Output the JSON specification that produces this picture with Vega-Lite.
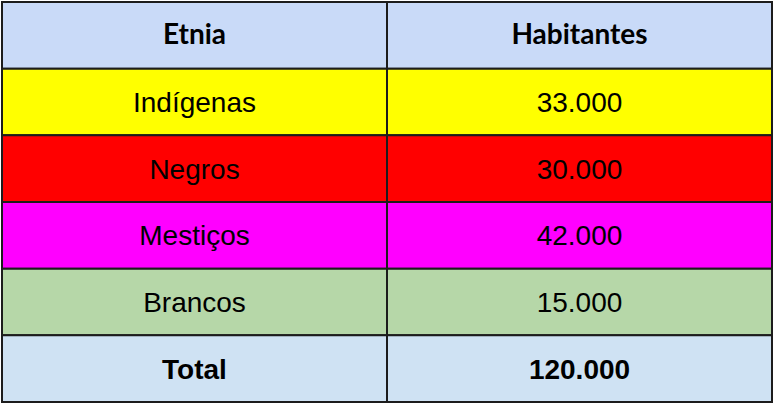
{
  "$schema": "https://vega.github.io/schema/vega-lite/v6.json",
  "width": 774,
  "height": 405,
  "autosize": {"type": "fit", "contains": "padding"},
  "padding": {"left": 1, "top": 1, "right": 1, "bottom": 2},
  "background": "white",
  "config": {"view": {"stroke": null}},
  "data": {
    "values": [
      {"linha": "Cabeçalho", "coluna": "Etnia", "texto": "Etnia"},
      {"linha": "Cabeçalho", "coluna": "Habitantes", "texto": "Habitantes"},
      {"linha": "Indígenas", "coluna": "Etnia", "texto": "Indígenas"},
      {"linha": "Indígenas", "coluna": "Habitantes", "texto": "33.000"},
      {"linha": "Negros", "coluna": "Etnia", "texto": "Negros"},
      {"linha": "Negros", "coluna": "Habitantes", "texto": "30.000"},
      {"linha": "Mestiços", "coluna": "Etnia", "texto": "Mestiços"},
      {"linha": "Mestiços", "coluna": "Habitantes", "texto": "42.000"},
      {"linha": "Brancos", "coluna": "Etnia", "texto": "Brancos"},
      {"linha": "Brancos", "coluna": "Habitantes", "texto": "15.000"},
      {"linha": "Total", "coluna": "Etnia", "texto": "Total"},
      {"linha": "Total", "coluna": "Habitantes", "texto": "120.000"}
    ]
  },
  "encoding": {
    "x": {"field": "coluna", "type": "nominal", "axis": null, "sort": ["Etnia", "Habitantes"], "scale": {"paddingInner": 0, "paddingOuter": 0}},
    "y": {"field": "linha", "type": "nominal", "axis": null, "sort": ["Cabeçalho", "Indígenas", "Negros", "Mestiços", "Brancos", "Total"], "scale": {"paddingInner": 0, "paddingOuter": 0}}
  },
  "layer": [
    {
      "mark": {"type": "rect", "stroke": "#1c1c1c", "strokeWidth": 2},
      "encoding": {
        "fill": {
          "field": "linha", "type": "nominal", "legend": null,
          "scale": {
            "domain": ["Cabeçalho", "Indígenas", "Negros", "Mestiços", "Brancos", "Total"],
            "range": ["#c9daf8", "#ffff00", "#ff0000", "#ff00ff", "#b6d7a8", "#cfe2f3"]
          }
        }
      }
    },
    {
      "transform": [{"filter": "datum.linha === 'Cabeçalho'"}],
      "mark": {"type": "text", "font": "Lato", "fontWeight": "bold", "fontSize": 28, "color": "#000000", "baseline": "middle", "dy": 1},
      "encoding": {"text": {"field": "texto"}}
    },
    {
      "transform": [{"filter": "datum.linha !== 'Cabeçalho' && datum.linha !== 'Total'"}],
      "mark": {"type": "text", "font": "Liberation Sans", "fontSize": 28, "color": "#000000", "baseline": "middle", "dy": 2},
      "encoding": {"text": {"field": "texto"}}
    },
    {
      "transform": [{"filter": "datum.linha === 'Total'"}],
      "mark": {"type": "text", "font": "Liberation Sans", "fontWeight": "bold", "fontSize": 28, "color": "#000000", "baseline": "middle", "dy": 2},
      "encoding": {"text": {"field": "texto"}}
    }
  ]
}
